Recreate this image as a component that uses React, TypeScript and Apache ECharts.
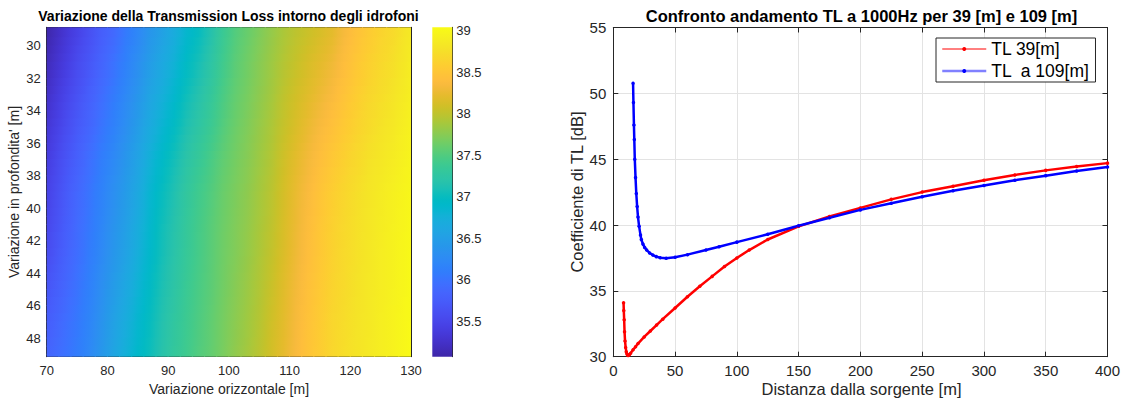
import React, { useEffect, useRef } from 'react';
import * as echarts from 'echarts';

// ---------- data: left heat map ----------
const heatX = [71, 73, 75, 77, 79, 81, 83, 85, 87, 89, 91, 93, 95, 97, 99, 101, 103, 105, 107, 109, 111, 113, 115, 117, 119, 121, 123, 125, 127, 129];
const heatY = [29, 31, 33, 35, 37, 39, 41, 43, 45, 47, 49];
const heatValues: number[][] = [
  [35.15, 35.30, 35.45, 35.60, 35.75, 35.88, 36.05, 36.20, 36.38, 36.52, 36.68, 36.85, 36.98, 37.15, 37.35, 37.50, 37.60, 37.70, 37.80, 37.90, 37.98, 38.05, 38.12, 38.20, 38.33, 38.45, 38.55, 38.63, 38.70, 38.80],
  [35.23, 35.38, 35.54, 35.68, 35.83, 35.97, 36.13, 36.29, 36.47, 36.62, 36.77, 36.94, 37.07, 37.22, 37.40, 37.54, 37.64, 37.74, 37.84, 37.94, 38.03, 38.12, 38.20, 38.28, 38.40, 38.51, 38.60, 38.68, 38.75, 38.84],
  [35.31, 35.47, 35.62, 35.77, 35.92, 36.06, 36.22, 36.38, 36.57, 36.72, 36.87, 37.03, 37.16, 37.30, 37.46, 37.58, 37.67, 37.77, 37.87, 37.99, 38.09, 38.18, 38.27, 38.36, 38.47, 38.57, 38.66, 38.73, 38.79, 38.87],
  [35.39, 35.55, 35.71, 35.85, 36.00, 36.14, 36.30, 36.47, 36.66, 36.82, 36.96, 37.12, 37.24, 37.37, 37.51, 37.62, 37.71, 37.81, 37.91, 38.03, 38.14, 38.25, 38.35, 38.44, 38.54, 38.63, 38.71, 38.78, 38.84, 38.91],
  [35.47, 35.64, 35.79, 35.94, 36.09, 36.23, 36.39, 36.56, 36.76, 36.92, 37.06, 37.21, 37.33, 37.45, 37.57, 37.66, 37.74, 37.84, 37.94, 38.08, 38.20, 38.31, 38.42, 38.52, 38.61, 38.69, 38.77, 38.83, 38.88, 38.94],
  [35.53, 35.70, 35.86, 36.00, 36.15, 36.30, 36.45, 36.63, 36.83, 36.99, 37.13, 37.28, 37.40, 37.50, 37.61, 37.69, 37.77, 37.87, 37.97, 38.11, 38.24, 38.36, 38.48, 38.58, 38.66, 38.74, 38.81, 38.87, 38.92, 38.97],
  [35.58, 35.75, 35.90, 36.04, 36.19, 36.35, 36.50, 36.68, 36.87, 37.04, 37.17, 37.31, 37.43, 37.53, 37.63, 37.71, 37.79, 37.89, 37.99, 38.13, 38.26, 38.39, 38.51, 38.61, 38.69, 38.76, 38.82, 38.88, 38.93, 38.98],
  [35.65, 35.80, 35.94, 36.08, 36.24, 36.40, 36.55, 36.73, 36.90, 37.07, 37.20, 37.33, 37.44, 37.54, 37.64, 37.72, 37.81, 37.91, 38.02, 38.15, 38.28, 38.41, 38.52, 38.62, 38.70, 38.77, 38.83, 38.89, 38.94, 38.99],
  [35.73, 35.86, 35.99, 36.13, 36.30, 36.46, 36.62, 36.79, 36.95, 37.11, 37.23, 37.36, 37.46, 37.55, 37.65, 37.74, 37.83, 37.93, 38.05, 38.18, 38.31, 38.44, 38.54, 38.64, 38.71, 38.78, 38.84, 38.89, 38.94, 38.99],
  [35.81, 35.93, 36.04, 36.18, 36.35, 36.53, 36.69, 36.85, 36.99, 37.15, 37.27, 37.38, 37.48, 37.57, 37.67, 37.76, 37.85, 37.95, 38.08, 38.20, 38.33, 38.46, 38.56, 38.66, 38.73, 38.79, 38.84, 38.90, 38.95, 39.00],
  [35.88, 35.98, 36.08, 36.22, 36.40, 36.58, 36.75, 36.90, 37.03, 37.18, 37.30, 37.40, 37.50, 37.58, 37.68, 37.78, 37.87, 37.97, 38.10, 38.22, 38.35, 38.48, 38.57, 38.67, 38.74, 38.80, 38.85, 38.90, 38.95, 39.00],
];
const heatXMin = 70;
const heatXMax = 130;
const heatYMin = 28.85;
const heatYMax = 49.15;
const heatYTicks = [30, 32, 34, 36, 38, 40, 42, 44, 46, 48];
const colorMin = 35.07;
const colorMax = 39.04;
const colorbarTicks = [35.5, 36, 36.5, 37, 37.5, 38, 38.5, 39];

// ---------- data: right line chart ----------
const red39X = [8.3, 8.5, 8.8, 9.1, 9.5, 10, 10.5, 11, 11.5, 12, 13, 14, 16, 18, 20, 25, 30, 35, 40, 50, 60, 70, 80, 90, 100, 110, 125, 150, 175, 200, 225, 250, 275, 300, 325, 350, 375, 400];
const red39Y = [34.09, 33.5, 32.8, 31.9, 31.2, 30.7, 30.38, 30.22, 30.13, 30.1, 30.15, 30.27, 30.52, 30.76, 31.0, 31.5, 31.95, 32.4, 32.85, 33.7, 34.55, 35.35, 36.1, 36.85, 37.5, 38.1, 38.9, 39.9, 40.65, 41.3, 41.95, 42.5, 42.95, 43.4, 43.8, 44.15, 44.45, 44.7];
const blue109X = [16, 16.3, 16.7, 17, 17.4, 18, 18.6, 19.3, 20, 20.9, 22, 22.7, 24, 25.4, 27, 29.4, 32, 34.8, 38, 42.8, 50, 60, 75, 85.6, 100, 125, 150, 175, 200, 225, 250, 275, 300, 325, 350, 375, 400];
const blue109Y = [50.76, 49.3, 47.6, 46.5, 45.0, 43.6, 42.4, 41.4, 40.6, 39.9, 39.25, 38.9, 38.55, 38.3, 38.1, 37.88, 37.72, 37.6, 37.52, 37.47, 37.55, 37.75, 38.1, 38.35, 38.7, 39.3, 39.95, 40.55, 41.15, 41.65, 42.15, 42.6, 43.0, 43.4, 43.75, 44.1, 44.4];
const redName = 'TL 39[m]';
const blueName = 'TL  a 109[m]';

// ---------- styles ----------
const FONT = "'Liberation Sans', Arial, Helvetica, sans-serif";
const AX = '#262626';
const PARULA = ['#3e26a8', '#402ab4', '#422ec0', '#4432cb', '#4537d5', '#463cde', '#4741e5', '#4847eb', '#484df0', '#4852f4', '#4758f8', '#465efb', '#4563fd', '#4269fe', '#3e6fff', '#3875fe', '#327cfc', '#2f81fa', '#2e87f7', '#2d8cf3', '#2b91ef', '#2796eb', '#259be8', '#23a0e5', '#20a5e2', '#1ca9df', '#18addb', '#12b1d6', '#08b5d0', '#01b8ca', '#02bac3', '#0bbdbc', '#19bfb6', '#24c1ae', '#2cc4a7', '#31c69f', '#37c897', '#3fca8e', '#4acb84', '#57cc7a', '#64cd6f', '#72cd64', '#81cc59', '#8fca4e', '#9dc943', '#abc739', '#b9c431', '#c5c22a', '#d1bf27', '#dcbd29', '#e6bb2d', '#efba36', '#f8ba3d', '#febe3c', '#fec338', '#fec934', '#fccf30', '#f9d62d', '#f7dc2a', '#f5e327', '#f5e924', '#f6ef20', '#f7f51b', '#f9fb15'];

const hexRgb = (h: string) => [parseInt(h.slice(1, 3), 16), parseInt(h.slice(3, 5), 16), parseInt(h.slice(5, 7), 16)];
const PARULA_RGB = PARULA.map(hexRgb);
function parulaColor(v: number): string {
  let t = (v - colorMin) / (colorMax - colorMin);
  t = Math.max(0, Math.min(1, t));
  const f = t * (PARULA_RGB.length - 1);
  const i0 = Math.min(Math.floor(f), PARULA_RGB.length - 2);
  const u = f - i0;
  const a = PARULA_RGB[i0], b = PARULA_RGB[i0 + 1];
  const c = a.map((ai, k) => Math.round(ai + (b[k] - ai) * u));
  return `rgb(${c[0]},${c[1]},${c[2]})`;
}
// shading between the grid nodes (colour only), like MATLAB's interpolated shading
function pair(len: number, f: number): [number, number, number] {
  let i0 = Math.floor(f);
  if (i0 < 0) i0 = 0;
  if (i0 > len - 2) i0 = len - 2;
  return [i0, i0 + 1, f - i0];
}
function shadeAt(fr: number, fc: number): number {
  const [r0, r1, tr] = pair(heatY.length, fr);
  const [c0, c1, tc] = pair(heatX.length, fc);
  const a = heatValues[r0][c0] * (1 - tc) + heatValues[r0][c1] * tc;
  const b = heatValues[r1][c0] * (1 - tc) + heatValues[r1][c1] * tc;
  return a * (1 - tr) + b * tr;
}

export default function App() {
  const ref = useRef<HTMLDivElement>(null);

  useEffect(() => {
    const chart = echarts.init(ref.current!, null, { renderer: 'svg' });

    const heatData: number[][] = [];
    heatY.forEach((y, i) => heatX.forEach((x, j) => heatData.push([x, y, heatValues[i][j], i, j])));
    const redData = red39X.map((x, i) => [x, red39Y[i]]);
    const blueData = blue109X.map((x, i) => [x, blue109Y[i]]);

    const tickIn = (len: number) => ({ show: true, inside: true, length: len, lineStyle: { color: AX, width: 1 } });
    const line = { show: true, onZero: false, lineStyle: { color: AX, width: 1 } };
    const gradStops = PARULA.map((c, i) => ({ offset: 1 - i / (PARULA.length - 1), color: c })).reverse();
    const SUB = 4;

    const option: any = {
      animation: false,
      backgroundColor: '#ffffff',
      textStyle: { fontFamily: FONT },
      grid: [
        { left: 46.7, top: 27.3, width: 364.3, height: 329.4 },
        { left: 432.3, top: 27.3, width: 20, height: 329.4 },
        { left: 613.3, top: 27.5, width: 496.7, height: 329.2 },
      ],
      xAxis: [
        { type: 'value', gridIndex: 0, position: 'bottom', min: heatXMin, max: heatXMax, interval: 10, axisLine: line, axisTick: tickIn(4), splitLine: { show: false }, axisLabel: { fontSize: 13, color: AX, margin: 7, fontFamily: FONT } },
        { type: 'value', gridIndex: 0, position: 'top', min: heatXMin, max: heatXMax, interval: 10, axisLine: line, axisTick: tickIn(4), splitLine: { show: false }, axisLabel: { show: false } },
        { type: 'value', gridIndex: 1, min: 0, max: 1, show: false },
        { type: 'value', gridIndex: 2, position: 'bottom', min: 0, max: 400, interval: 50, axisLine: line, axisTick: tickIn(5), splitLine: { show: true, lineStyle: { color: '#e3e3e3', width: 1 } }, axisLabel: { fontSize: 15, color: AX, margin: 6, fontFamily: FONT } },
        { type: 'value', gridIndex: 2, position: 'top', min: 0, max: 400, interval: 50, axisLine: line, axisTick: tickIn(5), splitLine: { show: false }, axisLabel: { show: false } },
      ],
      yAxis: [
        { type: 'value', gridIndex: 0, position: 'left', inverse: true, min: heatYMin, max: heatYMax, axisLine: line, axisTick: { ...tickIn(4), customValues: heatYTicks }, splitLine: { show: false }, axisLabel: { customValues: heatYTicks, fontSize: 13, color: AX, margin: 6, fontFamily: FONT } },
        { type: 'value', gridIndex: 0, position: 'right', inverse: true, min: heatYMin, max: heatYMax, axisLine: line, axisTick: { ...tickIn(4), customValues: heatYTicks }, splitLine: { show: false }, axisLabel: { show: false } },
        { type: 'value', gridIndex: 1, position: 'right', min: colorMin, max: colorMax, axisLine: line, axisTick: { ...tickIn(3), customValues: colorbarTicks }, splitLine: { show: false }, axisLabel: { customValues: colorbarTicks, fontSize: 13, color: AX, margin: 4, fontFamily: FONT } },
        { type: 'value', gridIndex: 2, position: 'left', min: 30, max: 55, interval: 5, axisLine: line, axisTick: tickIn(5), splitLine: { show: true, lineStyle: { color: '#e3e3e3', width: 1 } }, axisLabel: { fontSize: 15, color: AX, margin: 7, fontFamily: FONT } },
        { type: 'value', gridIndex: 2, position: 'right', min: 30, max: 55, interval: 5, axisLine: line, axisTick: tickIn(5), splitLine: { show: false }, axisLabel: { show: false } },
      ],
      legend: {
        orient: 'vertical', left: 936, top: 38,
        backgroundColor: '#ffffff', borderColor: AX, borderWidth: 1,
        padding: [2, 6, 2, 5], itemGap: 4, itemWidth: 44, itemHeight: 5,
        textStyle: { fontSize: 17.5, color: '#000', fontFamily: FONT },
        lineStyle: { width: 1 },
        data: [
          { name: redName },
          { name: blueName, lineStyle: { width: 2.5, color: '#8080ff' } },
        ],
      },
      series: [
        {
          type: 'custom', xAxisIndex: 0, yAxisIndex: 0, data: heatData, encode: { x: 0, y: 1 },
          renderItem: (params: any, api: any) => {
            const x = api.value(0), y = api.value(1);
            const i = api.value(3), j = api.value(4);
            const cs = params.coordSys;
            const clip = { x: cs.x, y: cs.y, width: cs.width, height: cs.height };
            const children: any[] = [];
            for (let k = 0; k < SUB; k++) {
              const yA = y - 1 + (2 * k) / SUB;
              const yB = y - 1 + (2 * (k + 1)) / SUB;
              const p0 = api.coord([x - 1, yA]);
              const p1 = api.coord([x + 1, yB]);
              const rx = Math.min(p0[0], p1[0]) - 0.5;
              const rw = Math.abs(p1[0] - p0[0]) + 1;
              const r = echarts.graphic.clipRectByRect(
                { x: rx, y: Math.min(p0[1], p1[1]) - 0.5, width: rw, height: Math.abs(p1[1] - p0[1]) + 1 },
                clip
              );
              if (!r) continue;
              const fr = i - 0.5 + (k + 0.5) / SUB;
              const vl = shadeAt(fr, j - 0.5), vc = shadeAt(fr, j), vr = shadeAt(fr, j + 0.5);
              // gradient expressed in the clipped rect's own space
              const o = (px: number) => Math.max(0, Math.min(1, (px - r.x) / r.width));
              const fill = new echarts.graphic.LinearGradient(0, 0, 1, 0, [
                { offset: o(rx + 0.5), color: parulaColor(vl) },
                { offset: o(rx + rw / 2), color: parulaColor(vc) },
                { offset: o(rx + rw - 0.5), color: parulaColor(vr) },
              ]);
              children.push({ type: 'rect', shape: r, style: { fill, stroke: null } });
            }
            return { type: 'group', children };
          },
        },
        {
          type: 'custom', xAxisIndex: 2, yAxisIndex: 2, data: [[0.5, (colorMin + colorMax) / 2]],
          renderItem: (params: any) => {
            const cs = params.coordSys;
            return { type: 'rect', shape: { x: cs.x, y: cs.y, width: cs.width, height: cs.height }, style: { fill: new echarts.graphic.LinearGradient(0, 0, 0, 1, gradStops) } };
          },
        },
        {
          type: 'line', name: redName, xAxisIndex: 3, yAxisIndex: 3, data: redData,
          showSymbol: true, symbol: 'circle', symbolSize: 3.5, color: '#ff0000',
          lineStyle: { color: '#ff0000', width: 2.5 }, itemStyle: { color: '#ff0000' },
        },
        {
          type: 'line', name: blueName, xAxisIndex: 3, yAxisIndex: 3, data: blueData,
          showSymbol: true, symbol: 'circle', symbolSize: 3.5, color: '#0000ff',
          lineStyle: { color: '#0000ff', width: 2.5 }, itemStyle: { color: '#0000ff' },
        },
      ],
      graphic: [
        { type: 'text', x: 228.5, y: 15.5, style: { text: 'Variazione della Transmission Loss intorno degli idrofoni', font: `bold 14px ${FONT}`, fill: '#000', textAlign: 'center', textVerticalAlign: 'middle' } },
        { type: 'text', x: 861.5, y: 15.5, style: { text: 'Confronto andamento TL a 1000Hz per 39 [m] e 109 [m]', font: `bold 16.5px ${FONT}`, fill: '#000', textAlign: 'center', textVerticalAlign: 'middle' } },
        { type: 'text', x: 229, y: 389, style: { text: 'Variazione orizzontale [m]', font: `14px ${FONT}`, fill: AX, textAlign: 'center', textVerticalAlign: 'middle' } },
        { type: 'text', x: 861.5, y: 389, style: { text: 'Distanza dalla sorgente [m]', font: `16.5px ${FONT}`, fill: AX, textAlign: 'center', textVerticalAlign: 'middle' } },
        { type: 'text', x: 14, y: 192, rotation: Math.PI / 2, style: { text: "Variazione in profondita' [m]", font: `14px ${FONT}`, fill: AX, textAlign: 'center', textVerticalAlign: 'middle' } },
        { type: 'text', x: 577, y: 192, rotation: Math.PI / 2, style: { text: 'Coefficiente di TL [dB]', font: `16.5px ${FONT}`, fill: AX, textAlign: 'center', textVerticalAlign: 'middle' } },
      ],
    };

    chart.setOption(option);
    return () => chart.dispose();
  }, []);

  return <div ref={ref} style={{ position: 'absolute', left: 0, top: 0, width: 1123, height: 398, background: '#fff' }} />;
}
